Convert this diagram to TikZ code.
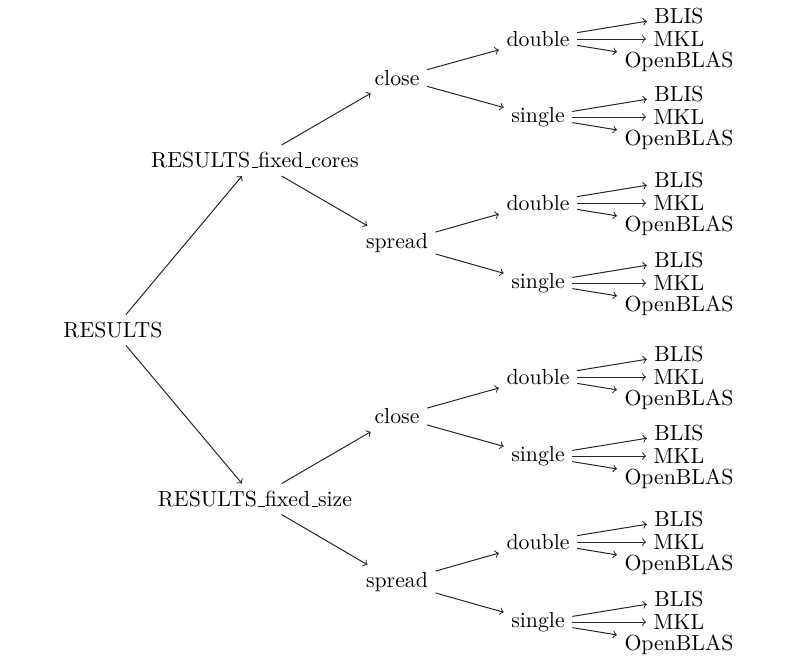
\documentclass[tikz,border=0pt]{standalone}
\newcommand{\lmus}{\leavevmode\kern.06em\vbox{\hrule width.3em}}
\begin{document}
\begin{tikzpicture}[x=0.5pt,y=-0.5pt,
  lbl/.style={inner sep=3.6pt, font=\fontsize{10.9}{13}\selectfont},
  edge/.style={->, line width=0.5pt, draw=black!85}]
\useasboundingbox (0,0) rectangle (802,666);
\node[lbl] (r) at (113,330) {RESULTS};
\node[lbl] (fc) at (255,160.5) {RESULTS\lmus fixed\lmus cores};
\node[lbl] (fs) at (255,499) {RESULTS\lmus fixed\lmus size};
\draw[edge] (r) -- (fc);
\draw[edge] (r) -- (fs);
% second level
\node[lbl] (closea) at (397,78) {close};
\node[lbl] (spreada) at (397,243) {spread};
\node[lbl] (closeb) at (397,416.5) {close};
\node[lbl] (spreadb) at (397,582) {spread};
\foreach \p/\c in {fc/closea, fc/spreada, fs/closeb, fs/spreadb}{
  \draw[edge] (\p) -- (\c);
}
% third level
\foreach \p/\dy/\sy/\tag in {closea/39/117/a, spreada/203/283/b, closeb/377/456/c, spreadb/542/622/d}{
  \node[lbl] (double\tag) at (538,\dy) {double};
  \node[lbl] (single\tag) at (538,\sy) {single};
  \draw[edge] (\p) -- (double\tag);
  \draw[edge] (\p) -- (single\tag);
}
% leaves
\foreach \p/\py in {doublea/39, singlea/117, doubleb/203, singleb/283, doublec/377, singlec/456, doubled/542, singled/622}{
  \node[lbl] (\p-b) at (679,\py-23) {BLIS};
  \node[lbl] (\p-m) at (679,\py) {MKL};
  \node[lbl] (\p-o) at (679,\py+23) {OpenBLAS};
  \draw[edge] (\p) -- (\p-b);
  \draw[edge] (\p) -- (\p-m);
  \draw[edge] (\p) -- (\p-o);
}
\end{tikzpicture}
\end{document}
